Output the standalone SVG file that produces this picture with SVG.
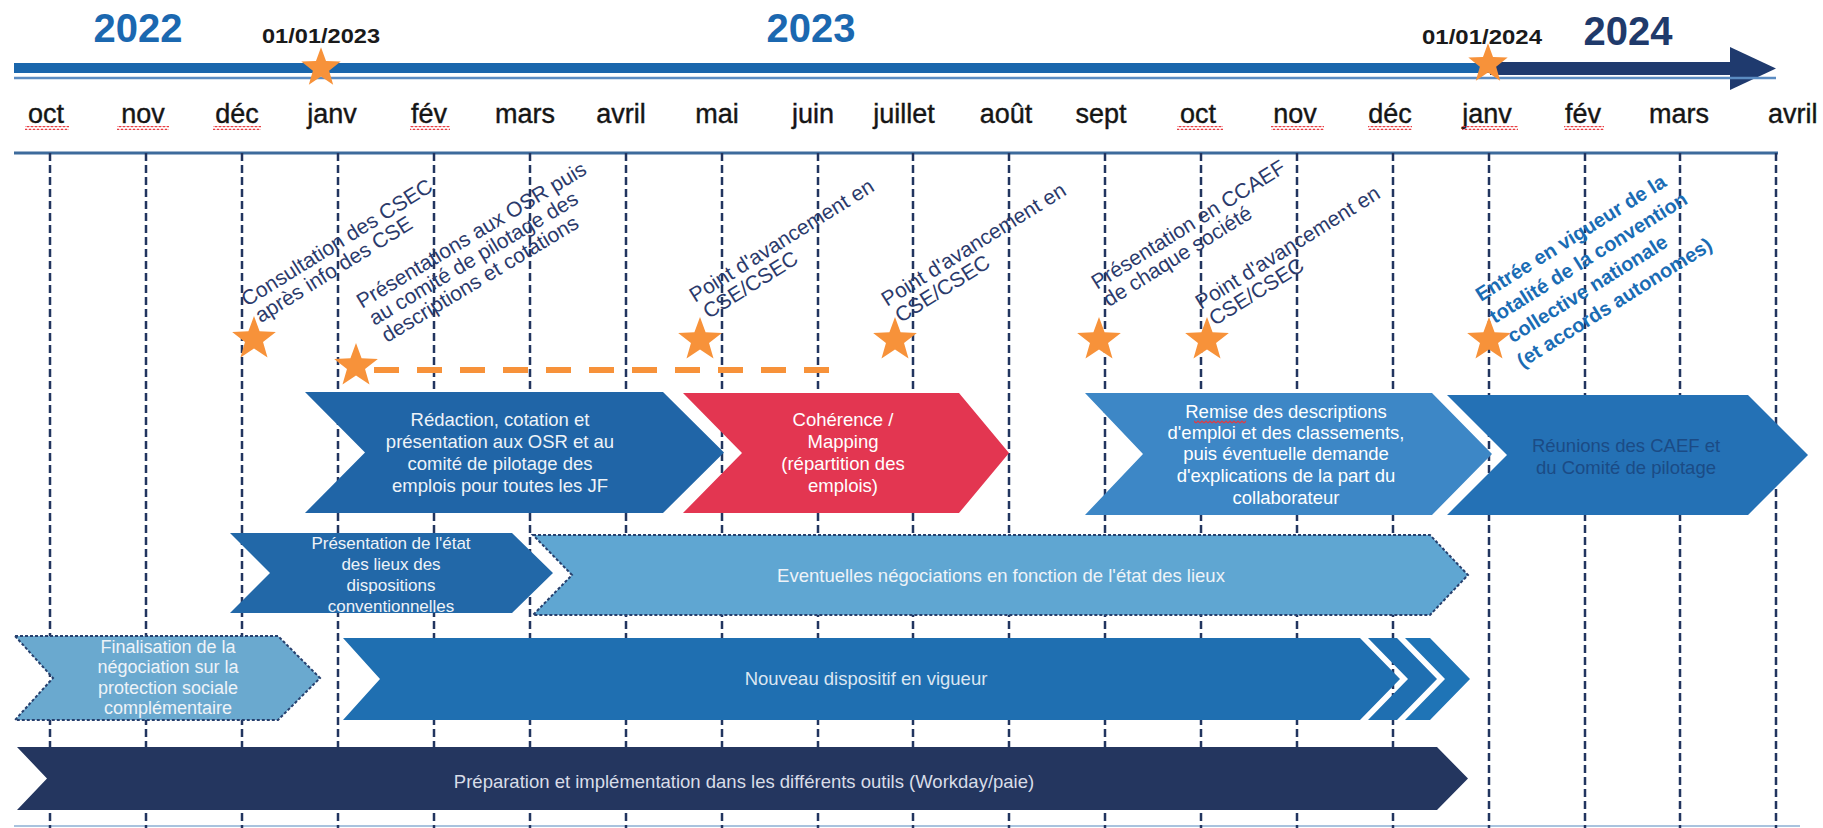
<svg xmlns="http://www.w3.org/2000/svg" xmlns:xlink="http://www.w3.org/1999/xlink" width="1823" height="828" viewBox="0 0 1823 828">
<defs>
<style>
text{font-family:"Liberation Sans",Arial,sans-serif}
.yr{font-size:40px;font-weight:bold;text-anchor:middle;fill:#1b68b0}
.dt{font-size:21px;font-weight:bold;fill:#1a1a1a;text-anchor:middle}
.mon{font-size:27px;fill:#151515;text-anchor:middle;stroke:#151515;stroke-width:0.4}
.grid{stroke:#22355f;stroke-width:2.5;stroke-dasharray:8 4;fill:none}
.ms{font-size:21px;fill:#2b3a6b}
.ms7{font-size:20px;font-weight:bold;fill:#1a6cb4}
.ct{font-size:18.5px;fill:#eef3f8;text-anchor:middle}
.star{fill:#f7923a}
.sq{fill:url(#sq)}
.dash-b{stroke:#27406e;stroke-width:2;stroke-dasharray:3 2}
</style>
<polygon id="star" points="0,-23 5.59,-7.69 21.87,-7.11 9.03,2.94 13.52,18.61 0,9.5 -13.52,18.61 -9.03,2.94 -21.87,-7.11 -5.59,-7.69"/>
<pattern id="sq" width="4" height="4" patternUnits="userSpaceOnUse"><path d="M0,3 L2,1 L4,3" fill="none" stroke="#e8383d" stroke-width="1.2"/></pattern>
</defs>
<rect width="1823" height="828" fill="#ffffff"/>

<g id="grid">
<line x1="14" y1="153" x2="1778" y2="153" stroke="#3d6b9c" stroke-width="3"/>
<line x1="14" y1="826" x2="1800" y2="826" stroke="#a9c3de" stroke-width="2"/>
<path class="grid" d="M50,153V828M146,153V828M242,153V828M338,153V828M434,153V828M530,153V828M626,153V828M722,153V828M818,153V828M913,153V828M1009,153V828M1105,153V828M1201,153V828M1297,153V828M1393,153V828M1489,153V828M1585,153V828M1680,153V828M1776,153V828"/>
</g>

<g id="timeline">
<rect x="14" y="63" width="1478" height="10" fill="#1a66ac"/>
<rect x="1490" y="62" width="244" height="13" fill="#1f3a6e"/>
<polygon points="1730,47 1776,68.5 1730,90" fill="#1f3a6e"/>
<line x1="14" y1="78" x2="1776" y2="78" stroke="#5b8cc2" stroke-width="2.5"/>
<text class="yr" x="138" y="42">2022</text>
<text class="yr" x="811" y="42">2023</text>
<text class="yr" x="1628" y="45" style="fill:#1f3a6b">2024</text>
<text class="dt" x="321" y="43" textLength="118" lengthAdjust="spacingAndGlyphs">01/01/2023</text>
<text class="dt" x="1482" y="44" textLength="120" lengthAdjust="spacingAndGlyphs">01/01/2024</text>
<use href="#star" xlink:href="#star" class="star" x="321" y="68" transform="translate(321 68) scale(0.9) translate(-321 -68)"/>
<use href="#star" xlink:href="#star" class="star" x="1488" y="64" transform="translate(1488 64) scale(0.9) translate(-1488 -64)"/>
</g>

<g id="months">
<text class="mon" x="46" y="123">oct</text>
<text class="mon" x="143" y="123">nov</text>
<text class="mon" x="237" y="123">déc</text>
<text class="mon" x="332" y="123">janv</text>
<text class="mon" x="429" y="123">fév</text>
<text class="mon" x="525" y="123">mars</text>
<text class="mon" x="621" y="123">avril</text>
<text class="mon" x="717" y="123">mai</text>
<text class="mon" x="813" y="123">juin</text>
<text class="mon" x="904" y="123">juillet</text>
<text class="mon" x="1006" y="123">août</text>
<text class="mon" x="1101" y="123">sept</text>
<text class="mon" x="1198" y="123">oct</text>
<text class="mon" x="1295" y="123">nov</text>
<text class="mon" x="1390" y="123">déc</text>
<text class="mon" x="1487" y="123">janv</text>
<text class="mon" x="1583" y="123">fév</text>
<text class="mon" x="1679" y="123">mars</text>
<text class="mon" x="1768" y="123" style="text-anchor:start">avril</text>
<rect class="sq" x="25" y="126" width="44" height="4"/>
<rect class="sq" x="117" y="126" width="52" height="4"/>
<rect class="sq" x="213" y="126" width="48" height="4"/>
<rect class="sq" x="410" y="126" width="40" height="4"/>
<rect class="sq" x="1177" y="126" width="46" height="4"/>
<rect class="sq" x="1271" y="126" width="53" height="4"/>
<rect class="sq" x="1368" y="126" width="44" height="4"/>
<rect class="sq" x="1462" y="126" width="56" height="4"/>
<rect class="sq" x="1564" y="126" width="40" height="4"/>
</g>

<g id="connectors">
<line x1="374" y1="370" x2="836" y2="370" stroke="#f7923a" stroke-width="6" stroke-dasharray="25 18"/>
</g>

<g id="m1">
<use href="#star" xlink:href="#star" class="star" x="254" y="339"/>
<text class="ms" transform="translate(247 307) rotate(-32)"><tspan x="0" y="0">Consultation des CSEC</tspan><tspan x="3" dy="21">après info des CSE</tspan></text>
</g>
<g id="m2">
<use href="#star" xlink:href="#star" class="star" x="356" y="366"/>
<text class="ms" transform="translate(362 309) rotate(-31)"><tspan x="0" y="0">Présentations aux OSR puis</tspan><tspan x="2" dy="21">au comité de pilotage des</tspan><tspan x="4" dy="21">descriptions et cotations</tspan></text>
</g>
<g id="m3">
<use href="#star" xlink:href="#star" class="star" x="700" y="340"/>
<text class="ms" transform="translate(695 303) rotate(-32)"><tspan x="0" y="0">Point d'avancement en</tspan><tspan x="3" dy="21">CSE/CSEC</tspan></text>
</g>
<g id="m4">
<use href="#star" xlink:href="#star" class="star" x="895" y="340"/>
<text class="ms" transform="translate(887 307) rotate(-32)"><tspan x="0" y="0">Point d'avancement en</tspan><tspan x="3" dy="21">CSE/CSEC</tspan></text>
</g>
<g id="m5">
<use href="#star" xlink:href="#star" class="star" x="1099" y="340"/>
<text class="ms" transform="translate(1097 290) rotate(-32)"><tspan x="0" y="0">Présentation en CCAEF</tspan><tspan x="1" dy="21">de chaque société</tspan></text>
</g>
<g id="m6">
<use href="#star" xlink:href="#star" class="star" x="1207" y="340"/>
<text class="ms" transform="translate(1201 310) rotate(-32)"><tspan x="0" y="0">Point d'avancement en</tspan><tspan x="3" dy="21">CSE/CSEC</tspan></text>
</g>
<g id="m7">
<use href="#star" xlink:href="#star" class="star" x="1489" y="340"/>
<text class="ms7" transform="translate(1481 302) rotate(-32)"><tspan x="0" y="0">Entrée en vigueur de la</tspan><tspan x="0" dy="26">totalité de la convention</tspan><tspan x="5" dy="26">collective nationale</tspan><tspan x="0" dy="26">(et accords autonomes)</tspan></text>
</g>

<g id="n-redaction">
<polygon points="305,392 663,392 724,452.5 663,513 305,513 365,452.5" fill="#2065a7"/>
<text class="ct"><tspan x="500" y="426">Rédaction, cotation et</tspan><tspan x="500" y="448">présentation aux OSR et au</tspan><tspan x="500" y="470">comité de pilotage des</tspan><tspan x="500" y="492">emplois pour toutes les JF</tspan></text>
</g>
<g id="n-coherence">
<polygon points="683,393 959,393 1009,453 959,513 683,513 742,453" fill="#e33651"/>
<text class="ct" style="fill:#ffffff"><tspan x="843" y="426">Cohérence /</tspan><tspan x="843" y="448">Mapping</tspan><tspan x="843" y="470">(répartition des</tspan><tspan x="843" y="492">emplois)</tspan></text>
</g>
<g id="n-remise">
<polygon points="1085,393 1432,393 1492,454 1432,515 1085,515 1143,454" fill="#3d87c6"/>
<text class="ct" style="fill:#ffffff"><tspan x="1286" y="418">Remise des descriptions</tspan><tspan x="1286" y="439">d'emploi et des classements,</tspan><tspan x="1286" y="460">puis éventuelle demande</tspan><tspan x="1286" y="482">d'explications de la part du</tspan><tspan x="1286" y="504">collaborateur</tspan></text>
<rect class="sq" x="1194" y="420" width="52" height="4"/>
</g>
<g id="n-reunions">
<polygon points="1447,395 1748,395 1808,455 1748,515 1447,515 1507,455" fill="#2471b5"/>
<text class="ct" style="fill:#1b4b85"><tspan x="1626" y="452">Réunions des CAEF et</tspan><tspan x="1626" y="474">du Comité de pilotage</tspan></text>
</g>
<g id="n-presentation">
<polygon points="230,533 512,533 553,573 512,613 230,613 270,573" fill="#2268a8"/>
<text class="ct" style="font-size:17px"><tspan x="391" y="549">Présentation de l'état</tspan><tspan x="391" y="570">des lieux des</tspan><tspan x="391" y="591">dispositions</tspan><tspan x="391" y="612">conventionnelles</tspan></text>
</g>
<g id="n-eventuelles">
<polygon points="533,535 1430,535 1468,575 1430,615 533,615 572,575" fill="#5fa6d2" class="dash-b"/>
<text class="ct" x="1001" y="582">Eventuelles négociations en fonction de l'état des lieux</text>
</g>
<g id="n-finalisation">
<polygon points="15,636 278,636 320,678 278,720 15,720 53,678" fill="#6aa9cf" class="dash-b"/>
<text class="ct" style="font-size:18px"><tspan x="168" y="653">Finalisation de la</tspan><tspan x="168" y="673">négociation sur la</tspan><tspan x="168" y="694">protection sociale</tspan><tspan x="168" y="714">complémentaire</tspan></text>
</g>
<g id="n-nouveau">
<polygon points="343,638 1360,638 1400,679 1360,720 343,720 380,679" fill="#1f6fb1"/>
<polygon points="1368,638 1397,638 1437,679 1397,720 1368,720 1408,679" fill="#1f6fb1"/>
<polygon points="1405,638 1430,638 1470,679 1430,720 1405,720 1445,679" fill="#1f74b6"/>
<text class="ct" x="866" y="685" style="fill:#dbe6f2">Nouveau dispositif en vigueur</text>
</g>
<g id="n-preparation">
<polygon points="17,747 1437,747 1468,778.5 1437,810 17,810 47,778.5" fill="#24365f"/>
<text class="ct" x="744" y="788" style="fill:#d8dde8">Préparation et implémentation dans les différents outils  (Workday/paie)</text>
</g>
</svg>
